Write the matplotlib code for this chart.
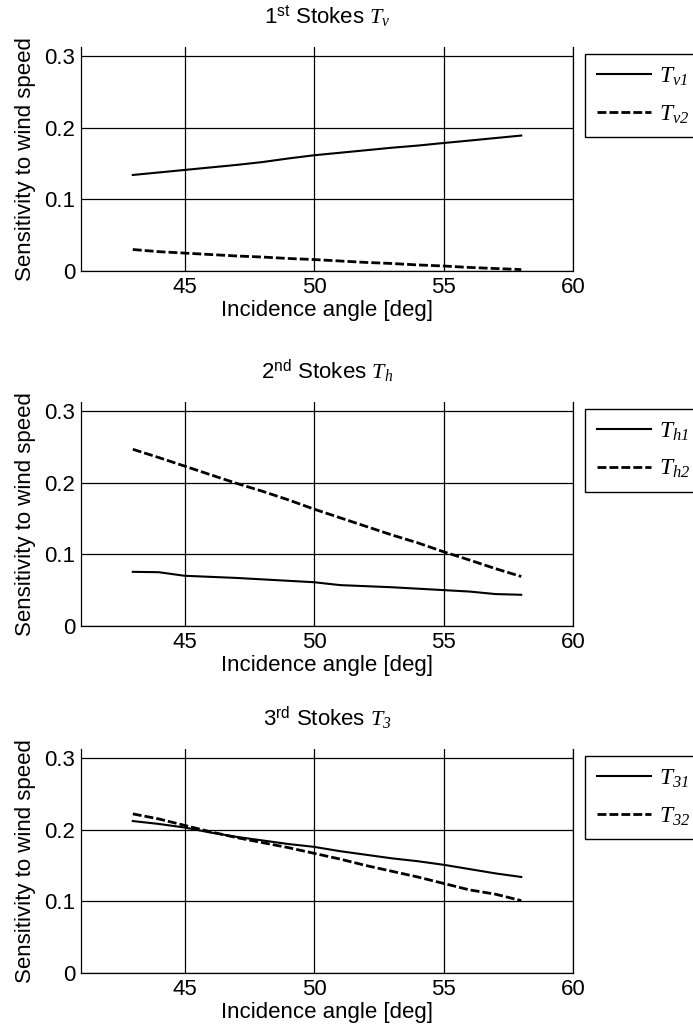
import numpy as np
import matplotlib as mpl
mpl.use('Agg')
import matplotlib.pyplot as plt

plt.rcParams['font.family'] = ['Liberation Sans', 'DejaVu Sans']
plt.rcParams['mathtext.fontset'] = 'custom'
plt.rcParams['mathtext.rm'] = 'Liberation Serif:italic'
plt.rcParams['mathtext.it'] = 'Liberation Serif:italic'
plt.rcParams['mathtext.sf'] = 'Liberation Sans'
plt.rcParams['mathtext.bf'] = 'Liberation Sans:bold'

# incidence angles [deg]
angles = [43, 44, 45, 46, 47, 48, 49, 50, 51, 52, 53, 54, 55, 56, 57, 58]

# 1st Stokes Tv
tv1 = [0.134, 0.1375, 0.141, 0.1445, 0.148, 0.152, 0.157, 0.1615, 0.165, 0.1685, 0.172, 0.175, 0.1786, 0.182, 0.1855, 0.189]
tv2 = [0.030, 0.027, 0.025, 0.023, 0.021, 0.0195, 0.0175, 0.016, 0.014, 0.012, 0.0105, 0.0085, 0.007, 0.005, 0.0035, 0.002]

# 2nd Stokes Th
th1 = [0.0755, 0.075, 0.070, 0.0685, 0.067, 0.065, 0.063, 0.061, 0.057, 0.0555, 0.054, 0.052, 0.050, 0.048, 0.0445, 0.0435]
th2 = [0.2465, 0.235, 0.223, 0.211, 0.199, 0.188, 0.176, 0.163, 0.151, 0.139, 0.127, 0.116, 0.1035, 0.092, 0.080, 0.069]

# 3rd Stokes T3
t31 = [0.212, 0.208, 0.203, 0.196, 0.190, 0.185, 0.180, 0.176, 0.170, 0.165, 0.160, 0.156, 0.151, 0.145, 0.139, 0.134]
t32 = [0.222, 0.215, 0.206, 0.197, 0.189, 0.182, 0.175, 0.167, 0.159, 0.150, 0.142, 0.134, 0.125, 0.116, 0.110, 0.101]

titles = [r'1$^{\mathsf{st}}$ Stokes $T_v$', r'2$^{\mathsf{nd}}$ Stokes $T_h$', r'3$^{\mathsf{rd}}$ Stokes $T_3$']
labels = [(r'$T_{v1}$', r'$T_{v2}$'),
          (r'$T_{h1}$', r'$T_{h2}$'),
          (r'$T_{31}$', r'$T_{32}$')]
series = [(tv1, tv2), (th1, th2), (t31, t32)]

xticks = [45, 50, 55, 60]
yticks = [0, 0.1, 0.2, 0.3]
yticklabels = ['0', '0.1', '0.2', '0.3']

fig = plt.figure(figsize=(6.93, 10.36), dpi=100)
bottoms = [0.7384, 0.3958, 0.0608]

for i in range(3):
    ax = fig.add_axes([0.1169, bottoms[i], 0.71, 0.2162])
    s1, s2 = series[i]
    l1, l2 = labels[i]
    ax.plot(angles, s1, color='k', linewidth=1.5, label=l1)
    ax.plot(angles, s2, color='k', linewidth=2.0, dashes=(3.2, 1.1), label=l2)

    ax.set_xlim(41, 60)
    ax.set_ylim(0, 0.3125)
    ax.set_xticks(xticks)
    ax.set_yticks(yticks)
    ax.set_yticklabels(yticklabels)
    ax.tick_params(labelsize=16, length=0, pad=4)
    ax.grid(True, color='k', linewidth=0.9)
    ax.spines['top'].set_visible(False)
    for sp in ['left', 'bottom', 'right']:
        ax.spines[sp].set_linewidth(0.9)

    ax.set_xlabel('Incidence angle [deg]', fontsize=16, labelpad=2)
    ax.set_ylabel('Sensitivity to wind speed', fontsize=16, labelpad=6)
    ax.set_title(titles[i], fontsize=16, pad=17)

    leg = ax.legend(loc='upper left', bbox_to_anchor=(1.024, 0.97), borderaxespad=0,
                    fontsize=17, handlelength=2.3, handletextpad=0.35, labelspacing=0.65,
                    borderpad=0.5, fancybox=False, framealpha=1, edgecolor='k')
    leg.get_frame().set_linewidth(1.0)

plt.savefig('out.png', dpi=100)
